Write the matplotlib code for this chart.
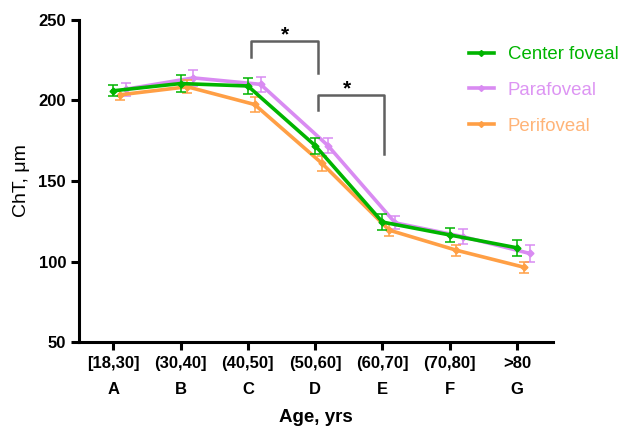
import matplotlib
matplotlib.use("Agg")

import matplotlib.pyplot as plt
from matplotlib.lines import Line2D
import numpy as np

plt.rcParams['font.family'] = ['Liberation Sans', 'DejaVu Sans']
plt.rcParams['font.weight'] = 'bold'

# data
age_ranges = ["[18,30]", "(30,40]", "(40,50]", "(50,60]", "(60,70]", "(70,80]", ">80"]
groups = ["A", "B", "C", "D", "E", "F", "G"]

center_mean = [206, 210.5, 209, 172, 124.5, 116.5, 108.5]
center_err = [3.5, 5, 5, 5, 5, 4.5, 5]
para_mean = [207, 214, 210, 172, 124, 115.5, 105]
para_err = [4, 5, 4.5, 4.5, 4, 4.5, 5]
peri_mean = [203.5, 208.5, 197.5, 161, 119.5, 107, 96.5]
peri_err = [3, 4, 4.5, 4.5, 3.5, 3.5, 3.5]

GREEN = "#00B400"
VIOLET = "#D98BF2"
ORANGE = "#FF9F45"

fig = plt.figure(figsize=(6.19, 4.33), dpi=100)
ax = fig.add_axes([0.128, 0.210, 0.766, 0.744])

x = np.arange(len(groups))

series = [
    ("Center foveal", center_mean, center_err, GREEN, "#00B400", 0.0, 4),
    ("Parafoveal", para_mean, para_err, VIOLET, "#DD95F3", 0.19, 2),
    ("Perifoveal", peri_mean, peri_err, ORANGE, "#FFB478", 0.1, 3),
]
handles = []
for name, m, e, c, tc, off, z in series:
    ax.errorbar(x + off, m, yerr=e, color=c, lw=2.6, marker="D", ms=3.5,
                elinewidth=1.1, capsize=3.5, capthick=1.1, zorder=z)
    handles.append(Line2D([], [], color=c, lw=2.6, marker="D", ms=3, label=name))

# significance brackets
bcol = "#606060"
ax.plot([2.05, 2.05, 3.05, 3.05], [227, 237, 237, 217], color=bcol, lw=1.8, zorder=1)
ax.text(2.55, 235, "*", ha="center", va="bottom", fontsize=15, fontweight="bold")
ax.plot([3.05, 3.05, 4.02, 4.02], [194, 203.5, 203.5, 167], color=bcol, lw=1.8, zorder=1)
ax.text(3.48, 201, "*", ha="center", va="bottom", fontsize=15, fontweight="bold")

ax.set_xlim(-0.505, 6.54)
ax.set_ylim(50, 250)
ax.set_yticks([50, 100, 150, 200, 250])
ax.set_xticks(x)
ax.set_xticklabels([f"{r}\n{g}" for r, g in zip(age_ranges, groups)],
                   fontsize=12, linespacing=1.92)

for s in ["top", "right"]:
    ax.spines[s].set_visible(False)
for s in ["left", "bottom"]:
    ax.spines[s].set_linewidth(2.2)
ax.tick_params(width=2.2, length=6, labelsize=12)
ax.tick_params(axis="x", pad=4)

ax.set_ylabel("ChT, μm", fontsize=14, fontweight="normal", labelpad=6)
ax.set_xlabel("Age, yrs", fontsize=13.5, fontweight="bold", labelpad=9)

leg = ax.legend(handles=handles, loc="upper left", bbox_to_anchor=(0.786, 0.97),
                frameon=False, handlelength=1.35, labelspacing=1.0,
                handletextpad=0.75, prop={"weight": "normal", "size": 13.4})
for t, s in zip(leg.get_texts(), series):
    t.set_color(s[4])

fig.savefig("out.png", dpi=100)
